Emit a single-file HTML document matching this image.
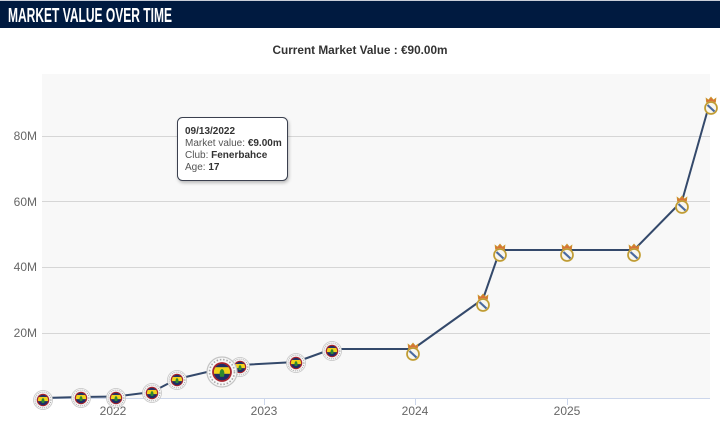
<!DOCTYPE html>
<html>
<head>
<meta charset="utf-8">
<style>
  html, body { margin:0; padding:0; background:#ffffff; }
  body { width:720px; height:421px; overflow:hidden; }
  svg { display:block; }
  text { font-family: "Liberation Sans", "DejaVu Sans", sans-serif; }
</style>
</head>
<body>
<svg width="720" height="421" viewBox="0 0 720 421" xmlns="http://www.w3.org/2000/svg">
  <defs>
    <filter id="sh" x="-20%" y="-20%" width="150%" height="160%">
      <feDropShadow dx="1" dy="2" stdDeviation="1.5" flood-color="#000" flood-opacity="0.25"/>
    </filter>
    <clipPath id="fbin"><circle cx="0" cy="0" r="5.4"/></clipPath>
    <g id="fb">
      <circle cx="0" cy="0" r="10" fill="#f7f7f7" stroke="#c4c4c4" stroke-width="0.8"/>
      <circle cx="0" cy="0" r="8.3" fill="none" stroke="#a8a8a8" stroke-width="1.1" stroke-dasharray="1 1.2"/>
      <circle cx="0" cy="0" r="6.6" fill="#a8222c"/>
      <g clip-path="url(#fbin)">
        <rect x="-6" y="-6" width="12" height="12" fill="#1e2d66"/>
        <rect x="-6" y="-3.2" width="12" height="4.4" fill="#f2d21b"/>
        <ellipse cx="0" cy="1.2" rx="1.6" ry="3.2" fill="#2f8a2e"/>
        <rect x="-6" y="3.2" width="12" height="3" fill="#1e2d66"/>
      </g>
    </g>
    <g id="rm">
      <path d="M-4.5,-5.5 L-5,-10 L-2.5,-8 L0,-11 L2.5,-8 L5,-10 L4.5,-5.5 Z" fill="#d8733a" stroke="#c99a2a" stroke-width="0.6"/>
      <circle cx="0" cy="0" r="6" fill="#f8f6ee" stroke="#c9a640" stroke-width="1.8"/>
      <path d="M-3.5,-3 L3.5,3.5" stroke="#4a6aa0" stroke-width="2.2"/>
      <circle cx="0" cy="0" r="6" fill="none" stroke="#b08e2a" stroke-width="0.5"/>
    </g>
  </defs>

  <!-- header -->
  <rect x="0" y="0" width="720" height="28" fill="#001a40"/>
  <rect x="0" y="0" width="720" height="1" fill="#c9ced8"/>
  <text x="8" y="22" font-size="20" font-weight="bold" fill="#ffffff" textLength="164" lengthAdjust="spacingAndGlyphs">MARKET VALUE OVER TIME</text>

  <!-- title -->
  <text x="360" y="54" font-size="12" font-weight="bold" fill="#333333" text-anchor="middle" textLength="175" lengthAdjust="spacingAndGlyphs">Current Market Value : €90.00m</text>

  <!-- plot background -->
  <rect x="42" y="74" width="668" height="324" fill="#f8f8f8"/>

  <!-- gridlines -->
  <g stroke="#d6d6d6" stroke-width="1">
    <line x1="42" y1="136.5" x2="710" y2="136.5"/>
    <line x1="42" y1="201.5" x2="710" y2="201.5"/>
    <line x1="42" y1="267.5" x2="710" y2="267.5"/>
    <line x1="42" y1="333.5" x2="710" y2="333.5"/>
  </g>
  <!-- x axis -->
  <line x1="42" y1="398.5" x2="710" y2="398.5" stroke="#ccd6eb" stroke-width="1"/>
  <g stroke="#ccd6eb" stroke-width="1">
    <line x1="113.5" y1="398" x2="113.5" y2="405"/>
    <line x1="264.5" y1="398" x2="264.5" y2="405"/>
    <line x1="415.5" y1="398" x2="415.5" y2="405"/>
    <line x1="567.5" y1="398" x2="567.5" y2="405"/>
  </g>

  <!-- y labels -->
  <g font-size="12" fill="#666666" text-anchor="end">
    <text x="37" y="140">80M</text>
    <text x="37" y="206">60M</text>
    <text x="37" y="271">40M</text>
    <text x="37" y="337">20M</text>
  </g>
  <!-- x labels -->
  <g font-size="12" fill="#666666" text-anchor="middle">
    <text x="113" y="415">2022</text>
    <text x="264" y="415">2023</text>
    <text x="415" y="415">2024</text>
    <text x="567" y="415">2025</text>
  </g>

  <!-- series line -->
  <polyline fill="none" stroke="#34496b" stroke-width="2" stroke-linejoin="round"
    points="43,398 81,397 116,396.5 152,392 177,379 220,369 240,365 296,362 332,349 413,349 483,299 500,250 567,250 634,250 682,201 710,102"/>

  <!-- Fenerbahce markers -->
  <use href="#fb" transform="translate(43,400) scale(0.95)"/>
  <use href="#fb" transform="translate(81,398) scale(0.95)"/>
  <use href="#fb" transform="translate(116,398) scale(0.95)"/>
  <use href="#fb" transform="translate(152,393) scale(0.95)"/>
  <use href="#fb" transform="translate(177,380) scale(0.95)"/>
  <use href="#fb" transform="translate(240,367) scale(0.95)"/>
  <use href="#fb" transform="translate(222,372) scale(1.5)"/>
  <use href="#fb" transform="translate(296,363) scale(0.95)"/>
  <use href="#fb" transform="translate(332,351) scale(0.95)"/>

  <!-- Real Madrid markers -->
  <use href="#rm" transform="translate(413,354)"/>
  <use href="#rm" transform="translate(483,305)"/>
  <use href="#rm" transform="translate(500,255)"/>
  <use href="#rm" transform="translate(567,255)"/>
  <use href="#rm" transform="translate(634,255)"/>
  <use href="#rm" transform="translate(682,207)"/>
  <use href="#rm" transform="translate(711,108)"/>

  <!-- tooltip -->
  <rect x="177.5" y="117.5" width="110" height="63" rx="5" ry="5" fill="#ffffff" stroke="#3a4150" stroke-width="1" filter="url(#sh)"/>
  <g font-size="10" fill="#555555">
    <text x="185" y="134" font-weight="bold" fill="#333333">09/13/2022</text>
    <text x="185" y="146">Market value: <tspan font-weight="bold" fill="#333333">€9.00m</tspan></text>
    <text x="185" y="158">Club: <tspan font-weight="bold" fill="#333333">Fenerbahce</tspan></text>
    <text x="185" y="170">Age: <tspan font-weight="bold" fill="#333333">17</tspan></text>
  </g>
</svg>
</body>
</html>
